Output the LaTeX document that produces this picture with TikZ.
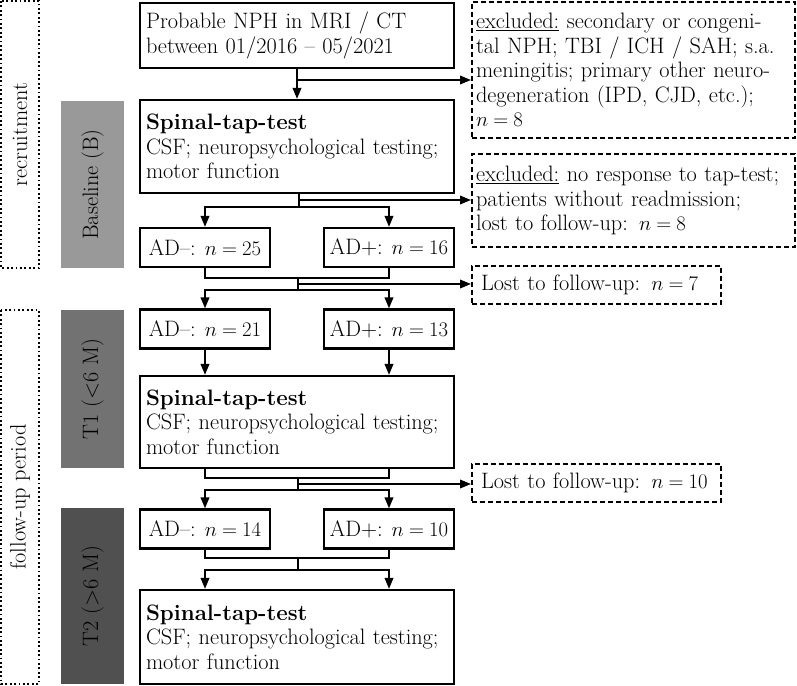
\documentclass[tikz,border=0pt]{standalone}
\usepackage{fontspec}
\usetikzlibrary{arrows.meta}
\definecolor{grayB}{HTML}{999999}
\definecolor{grayT1}{HTML}{727272}
\definecolor{grayT2}{HTML}{505050}
\thickmuskip=4.5mu
\begin{document}
\begin{tikzpicture}[x=1pt,y=-1pt,
  every node/.style={font=\fontsize{22.3}{24.6}\selectfont},
  box/.style={draw, line width=2.2pt, minimum width=314pt, text width=302pt, align=left, inner xsep=6pt, inner ysep=0pt},
  small/.style={draw, line width=2.2pt, minimum width=130pt, minimum height=39pt, inner sep=0pt, align=center},
  excl/.style={draw, line width=2pt, dash pattern=on 5pt off 3pt, minimum width=323pt, text width=315pt, inner xsep=4pt, inner ysep=0pt, align=left},
  lost/.style={draw, line width=2pt, dash pattern=on 5pt off 3pt, minimum width=249pt, text width=231pt, minimum height=38pt, inner xsep=9pt, inner ysep=0pt, align=left},
  phase/.style={rotate=90, minimum height=63pt, inner sep=0pt},
  period/.style={rotate=90, draw, line width=1.8pt, dash pattern=on 1.8pt off 2.6pt, minimum height=38pt, inner sep=0pt},
  ln/.style={line width=2pt},
  arr/.style={line width=2pt, -{Triangle[length=11pt,width=8.5pt]}}
]
\useasboundingbox (0,0) rectangle (797,685);

% left period boxes
\node[period, minimum width=267pt] (rec) at (20,134.5) {recruitment};
\node[period, minimum width=374pt] (fup) at (20,497) {follow-up period};

% phase boxes
\node[phase, fill=grayB, minimum width=167pt] (gB) at (92.5,184.5) {Baseline (B)};
\node[phase, fill=grayT1, minimum width=158pt] (gT1) at (92.5,389) {T1 (<6 M)};
\node[phase, fill=grayT2, minimum width=176pt] (gT2) at (92.5,596) {T2 (>6 M)};

% main boxes
\node[box, minimum height=65pt] (b1) at (297,35.5) {Probable NPH in MRI / CT\\between 01/2016 -- 05/2021};
\node[box, minimum height=93pt] (b2) at (297,146.5) {\textbf{Spinal-tap-test}\\CSF; neuropsychological testing;\\motor function};
\node[small] (adm1) at (205,247.5) {AD--: $n = 25$};
\node[small] (adp1) at (389,247.5) {AD+: $n = 16$};
\node[small] (adm2) at (205,329) {AD--: $n = 21$};
\node[small] (adp2) at (389,329) {AD+: $n = 13$};
\node[box, minimum height=92pt] (b3) at (297,422) {\textbf{Spinal-tap-test}\\CSF; neuropsychological testing;\\motor function};
\node[small] (adm3) at (205,529) {AD--: $n = 14$};
\node[small] (adp3) at (389,529) {AD+: $n = 10$};
\node[box, minimum height=94pt] (b4) at (297,637) {\textbf{Spinal-tap-test}\\CSF; neuropsychological testing;\\motor function};

% exclusion boxes
\node[excl, minimum height=136pt] (ex1) at (633.5,70) {\underline{excluded:} secondary or congeni-\\tal NPH; TBI / ICH / SAH; s.a.\\meningitis; primary other neuro-\\degeneration (IPD, CJD, etc.);\\$n = 8$};
\node[excl, minimum height=93pt] (ex2) at (633.5,200.5) {\underline{excluded:} no response to tap-test;\\patients without readmission;\\lost to follow-up: $n = 8$};
\node[lost] (lost1) at (596.5,284.5) {Lost to follow-up: $n = 7$};
\node[lost] (lost2) at (596.5,483) {Lost to follow-up: $n = 10$};

% connectors
\coordinate (j1) at (297,80);
\draw[arr] (b1.south) -- (b2.north);
\draw[arr] (j1) -- (j1 -| ex1.west);

\coordinate (s1) at (299,207);
\coordinate (j2) at (299,200);
\draw[ln] (b2.south -| s1) -- (s1);
\draw[arr] (j2) -- (j2 -| ex2.west);
\draw[arr] (s1) -| (adm1.north);
\draw[arr] (s1) -| (adp1.north);

\coordinate (m1) at (298,278);
\coordinate (s2) at (298,290);
\coordinate (j3) at (298,284);
\draw[ln] (adm1.south) |- (m1) -| (adp1.south);
\draw[ln] (m1) -- (s2);
\draw[arr] (j3) -- (j3 -| lost1.west);
\draw[arr] (s2) -| (adm2.north);
\draw[arr] (s2) -| (adp2.north);

\draw[arr] (adm2.south) -- (adm2 |- b3.north);
\draw[arr] (adp2.south) -- (adp2 |- b3.north);

\coordinate (m2) at (298,478);
\coordinate (s3) at (298,490);
\coordinate (j4) at (298,484);
\draw[ln] (b3.south -| adm2) |- (m2) -| (b3.south -| adp2);
\draw[ln] (m2) -- (s3);
\draw[arr] (j4) -- (j4 -| lost2.west);
\draw[arr] (s3) -| (adm3.north);
\draw[arr] (s3) -| (adp3.north);

\coordinate (m3) at (298,558);
\coordinate (s4) at (298,570);
\draw[ln] (adm3.south) |- (m3) -| (adp3.south);
\draw[ln] (m3) -- (s4);
\draw[arr] (s4) -| (b4.north -| adm3);
\draw[arr] (s4) -| (b4.north -| adp3);
\end{tikzpicture}
\end{document}
